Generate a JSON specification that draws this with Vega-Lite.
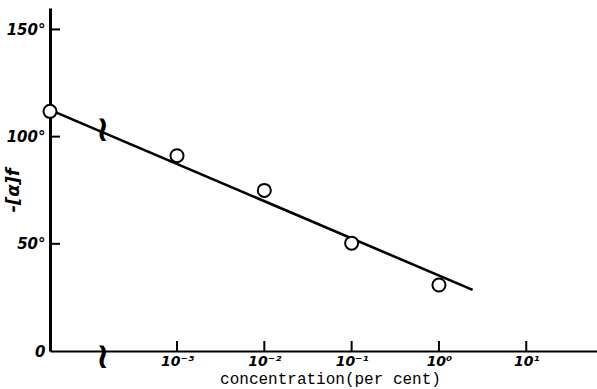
{
  "$schema": "https://vega.github.io/schema/vega-lite/v6.json",
  "width": 547,
  "height": 343,
  "autosize": {"type": "none"},
  "padding": {"left": 50, "top": 8, "right": 0, "bottom": 38},
  "background": "white",
  "config": {"view": {"stroke": null}},
  "datasets": {
    "fit": [
      {"conc": 0.0000351, "value": 112.5},
      {"conc": 2.43, "value": 28.5}
    ],
    "obs": [
      {"conc": 0.0000351, "value": 111.8},
      {"conc": 0.001, "value": 91.1},
      {"conc": 0.01, "value": 74.9},
      {"conc": 0.1, "value": 50.3},
      {"conc": 1, "value": 30.8}
    ],
    "breaks": [
      {"conc": 0.00014, "value": 106},
      {"conc": 0.00014, "value": 0}
    ],
    "xticks": [
      {"conc": 0.001, "value": 0},
      {"conc": 0.01, "value": 0},
      {"conc": 0.1, "value": 0},
      {"conc": 1, "value": 0},
      {"conc": 10, "value": 0}
    ],
    "yticks": [
      {"conc": 0.0000351, "value": 50},
      {"conc": 0.0000351, "value": 100},
      {"conc": 0.0000351, "value": 150}
    ]
  },
  "layer": [
    {
      "data": {"name": "fit"},
      "mark": {"type": "line", "color": "black", "strokeWidth": 2.6},
      "encoding": {
        "x": {
          "field": "conc",
          "type": "quantitative",
          "scale": {"type": "log", "domain": [0.0000351, 64.6], "nice": false},
          "axis": {
            "values": [0.001, 0.01, 0.1, 1, 10],
            "labelExpr": "datum.value < 0.005 ? '10⁻³' : datum.value < 0.05 ? '10⁻²' : datum.value < 0.5 ? '10⁻¹' : datum.value < 5 ? '10⁰' : '10¹'",
            "grid": false,
            "ticks": false,
            "domainColor": "black",
            "domainWidth": 2.2,
            "labelPadding": 3,
            "labelFont": "DejaVu Sans",
            "labelFontStyle": "italic",
            "labelFontWeight": "bold",
            "labelFontSize": 14,
            "labelColor": "black",
            "title": "concentration(per cent)",
            "titleFont": "Liberation Mono",
            "titleFontSize": 16,
            "titleFontWeight": "normal",
            "titleColor": "black",
            "titleX": 280,
            "titleY": 32,
            "titleBaseline": "alphabetic"
          }
        },
        "y": {
          "field": "value",
          "type": "quantitative",
          "scale": {"domain": [0, 160], "nice": false},
          "axis": {
            "values": [0, 50, 100, 150],
            "labelExpr": "datum.value == 0 ? '0' : datum.value + '°'",
            "grid": false,
            "ticks": false,
            "domainColor": "black",
            "domainWidth": 3,
            "labelPadding": 5,
            "labelFont": "DejaVu Sans",
            "labelFontStyle": "italic",
            "labelFontWeight": "bold",
            "labelFontSize": 15,
            "labelColor": "black",
            "title": "-[α]f",
            "titleFont": "DejaVu Sans",
            "titleFontStyle": "italic",
            "titleFontSize": 18,
            "titleFontWeight": "bold",
            "titleColor": "black",
            "titleX": -28,
            "titleY": 182,
            "titleAngle": -90
          }
        }
      }
    },
    {
      "data": {"name": "xticks"},
      "mark": {"type": "tick", "orient": "vertical", "color": "black", "size": 10, "thickness": 2, "yOffset": -5, "opacity": 1},
      "encoding": {
        "x": {"field": "conc", "type": "quantitative"},
        "y": {"field": "value", "type": "quantitative"}
      }
    },
    {
      "data": {"name": "yticks"},
      "mark": {"type": "tick", "orient": "horizontal", "color": "black", "size": 10, "thickness": 2, "xOffset": 5, "opacity": 1},
      "encoding": {
        "x": {"field": "conc", "type": "quantitative"},
        "y": {"field": "value", "type": "quantitative"}
      }
    },
    {
      "data": {"name": "obs"},
      "mark": {"type": "point", "shape": "circle", "filled": false, "fill": "white", "fillOpacity": 1, "stroke": "black", "strokeWidth": 2, "size": 170, "opacity": 1},
      "encoding": {
        "x": {"field": "conc", "type": "quantitative"},
        "y": {"field": "value", "type": "quantitative"}
      }
    },
    {
      "data": {"name": "breaks"},
      "mark": {"type": "text", "text": "≀", "fontSize": 36, "font": "DejaVu Sans", "fontWeight": "bold", "color": "black", "baseline": "middle", "dy": 6},
      "encoding": {
        "x": {"field": "conc", "type": "quantitative"},
        "y": {"field": "value", "type": "quantitative"}
      }
    }
  ]
}
